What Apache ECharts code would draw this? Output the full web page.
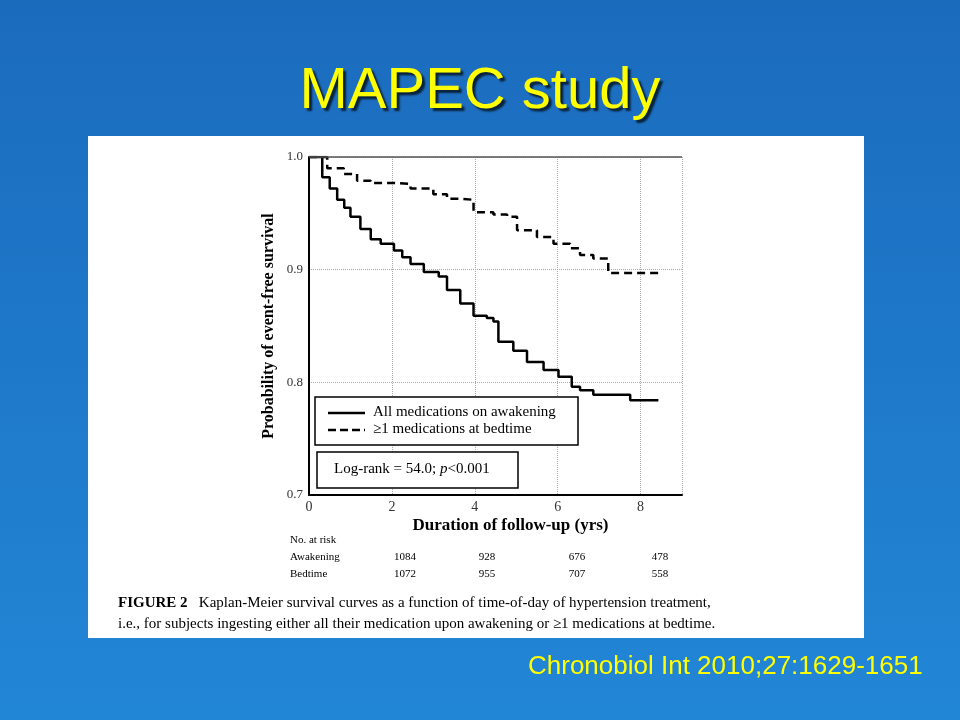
<!DOCTYPE html>
<html><head><meta charset="utf-8">
<script src="https://cdn.jsdelivr.net/npm/echarts@6/dist/echarts.min.js"></script>
<style>html,body{margin:0;padding:0;}#c{width:960px;height:720px;}</style>
</head><body><div id="c"></div>
<script>
var awakeningX = [0, 0.2, 0.32, 0.5, 0.68, 0.85, 1.0, 1.24, 1.49, 1.73, 2.05, 2.25, 2.45, 2.77, 3.13, 3.33, 3.65, 3.97, 4.29, 4.45, 4.57, 4.93, 5.26, 5.66, 6.02, 6.34, 6.54, 6.86, 7.75, 8.43];
var awakeningY = [1.0, 1.0, 0.982, 0.972, 0.962, 0.955, 0.947, 0.936, 0.927, 0.923, 0.917, 0.911, 0.905, 0.898, 0.894, 0.882, 0.870, 0.859, 0.857, 0.854, 0.836, 0.828, 0.818, 0.811, 0.805, 0.796, 0.793, 0.789, 0.784, 0.784];
var bedtimeX = [0, 0.44, 0.84, 1.16, 1.49, 2.05, 2.45, 3.0, 3.33, 3.65, 3.97, 4.45, 4.78, 5.02, 5.5, 5.9, 6.3, 6.54, 6.86, 7.22, 8.5];
var bedtimeY = [1.0, 0.990, 0.985, 0.979, 0.977, 0.976, 0.972, 0.967, 0.963, 0.962, 0.951, 0.949, 0.947, 0.935, 0.929, 0.923, 0.919, 0.913, 0.910, 0.897, 0.897];
var xTicks = [0, 2, 4, 6, 8];
var yTicks = [0.7, 0.8, 0.9, 1.0];
var riskAwakening = ['1084', '928', '676', '478'];
var riskBedtime = ['1072', '955', '707', '558'];
var riskX = [405, 487, 577, 660];

function pairs(xs, ys){ return xs.map(function(x,i){return [x, ys[i]];}); }
var serif = '"Liberation Serif","DejaVu Serif",serif';
var sans = '"Liberation Sans", Arial, sans-serif';
var gfx = [
  {type:'rect', z:-10, shape:{x:0,y:0,width:960,height:720}, style:{fill:new echarts.graphic.LinearGradient(0,0,0,1,[{offset:0,color:'#1b6bbd'},{offset:1,color:'#2286d6'}])}},
  {type:'rect', z:-5, shape:{x:88,y:136,width:776,height:502}, style:{fill:'#ffffff'}},
  {type:'text', x:480, y:92, style:{text:'MAPEC study', fill:'#ffff00', fontSize:58, fontFamily:sans, align:'center', verticalAlign:'middle', textShadowColor:'rgba(0,0,0,0.7)', textShadowOffsetX:3, textShadowOffsetY:3, textShadowBlur:2}},
  {type:'text', x:528, y:667, style:{text:'Chronobiol Int 2010;27:1629-1651', fill:'#ffff00', fontSize:26, fontFamily:sans, verticalAlign:'middle', textShadowColor:'rgba(0,0,0,0.6)', textShadowOffsetX:1, textShadowOffsetY:1}},
  {type:'line', shape:{x1:309,y1:157,x2:682,y2:157}, style:{stroke:'#555', lineWidth:1.5}, z:5},
  {type:'rect', shape:{x:315,y:397,width:263,height:48}, style:{fill:'#fff', stroke:'#000', lineWidth:1.5}, z:10},
  {type:'line', shape:{x1:328,y1:413,x2:365,y2:413}, style:{stroke:'#000', lineWidth:2.5}, z:11},
  {type:'line', shape:{x1:328,y1:430,x2:365,y2:430}, style:{stroke:'#000', lineWidth:2.5, lineDash:[8,4]}, z:11},
  {type:'text', x:373, y:405, style:{text:'All medications on awakening', fill:'#000', font:'15px '+serif}, z:11},
  {type:'text', x:373, y:422, style:{text:'\u22651 medications at bedtime', fill:'#000', font:'15px '+serif}, z:11},
  {type:'rect', shape:{x:317,y:452,width:201,height:36}, style:{fill:'#fff', stroke:'#000', lineWidth:1.5}, z:10},
  {type:'text', x:334, y:462, style:{rich:{a:{font:'15px '+serif, fill:'#000'}, i:{font:'italic 15px '+serif, fill:'#000'}}, text:'{a|Log-rank = 54.0; }{i|p}{a|<0.001}'}, z:11},
  {type:'text', x:290, y:535, style:{text:'No. at risk', fill:'#000', font:'11px '+serif}},
  {type:'text', x:290, y:552, style:{text:'Awakening', fill:'#000', font:'11px '+serif}},
  {type:'text', x:290, y:569, style:{text:'Bedtime', fill:'#000', font:'11px '+serif}},
  {type:'text', x:118, y:596, style:{rich:{b:{font:'bold 15px '+serif, fill:'#000'}, a:{font:'15px '+serif, fill:'#000'}}, text:'{b|FIGURE 2}{a|   Kaplan-Meier survival curves as a function of time-of-day of hypertension treatment,}'}},
  {type:'text', x:118, y:617, style:{text:'i.e., for subjects ingesting either all their medication upon awakening or \u22651 medications at bedtime.', fill:'#000', font:'15px '+serif}}
];
riskAwakening.forEach(function(t,i){ gfx.push({type:'text', x:riskX[i], y:552, style:{text:t, fill:'#000', font:'11px '+serif, align:'center'}}); });
riskBedtime.forEach(function(t,i){ gfx.push({type:'text', x:riskX[i], y:569, style:{text:t, fill:'#000', font:'11px '+serif, align:'center'}}); });

var chart = echarts.init(document.getElementById('c'));
chart.setOption({
  animation:false,
  graphic: gfx,
  grid:{left:309, top:157, width:373, height:338},
  xAxis:{type:'value', min:0, max:9, interval:2, name:'Duration of follow-up (yrs)', nameLocation:'middle', nameGap:22,
    nameTextStyle:{fontWeight:'bold', fontSize:17, fontFamily:serif, color:'#000', padding:[0,0,0,30]},
    axisLine:{show:true, lineStyle:{color:'#000', width:2}}, axisTick:{show:false},
    axisLabel:{color:'#333', fontFamily:serif, fontSize:14, margin:5, formatter:function(v){return xTicks.indexOf(v)>=0? String(v):'';}},
    splitLine:{show:true, lineStyle:{color:'#aaa', type:'dotted'}}},
  yAxis:{type:'value', min:0.7, max:1.0, interval:0.1, name:'Probability of event-free survival', nameLocation:'middle', nameGap:32,
    nameTextStyle:{fontWeight:'bold', fontSize:16, fontFamily:serif, color:'#000'},
    axisLine:{show:true, lineStyle:{color:'#000', width:2}}, axisTick:{show:false},
    axisLabel:{color:'#333', fontFamily:serif, fontSize:13, margin:6, formatter:function(v){return v.toFixed(1);}},
    splitLine:{show:true, lineStyle:{color:'#aaa', type:'dotted'}}},
  series:[
    {type:'line', step:'end', showSymbol:false, data:pairs(awakeningX, awakeningY), lineStyle:{color:'#000', width:2.5}},
    {type:'line', step:'end', showSymbol:false, data:pairs(bedtimeX, bedtimeY), lineStyle:{color:'#000', width:2.5, type:[8,5]}}
  ]
});
</script></body></html>
